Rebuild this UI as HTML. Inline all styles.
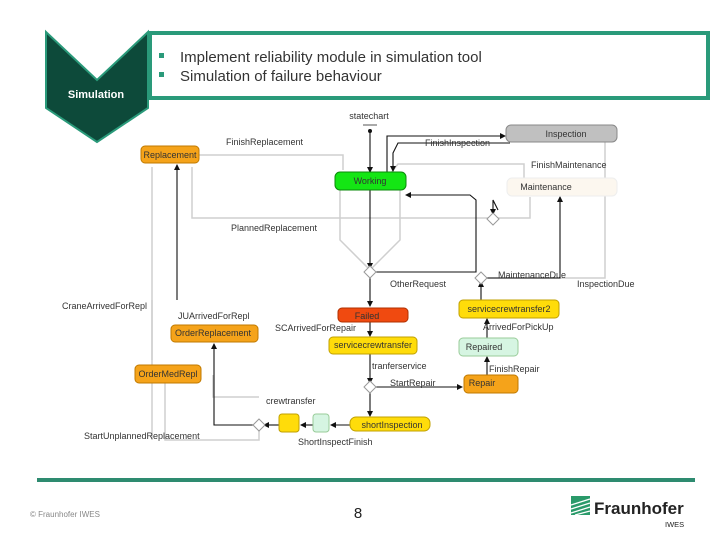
<!DOCTYPE html>
<html><head><meta charset="utf-8"><style>
html,body{margin:0;padding:0;background:#fff;}
svg{display:block;font-family:"Liberation Sans",sans-serif;}
.l{font-size:9px;fill:#333;}
.n{font-size:9px;fill:#333;text-anchor:middle;}
</style></head><body>
<svg width="720" height="540" viewBox="0 0 720 540" xmlns="http://www.w3.org/2000/svg">
<defs>
<marker id="a" markerWidth="6" markerHeight="6" refX="5" refY="3" orient="auto" markerUnits="userSpaceOnUse"><path d="M0,0 L6,3 L0,6z" fill="#111"/></marker>
</defs>
<!-- header -->
<polygon points="46,32 97,80 148,32 148,108 97,142 46,108" fill="#0d4a3a" stroke="#2a9a7a" stroke-width="2"/>
<text x="96" y="98" font-size="11" font-weight="bold" fill="#fff" text-anchor="middle">Simulation</text>
<rect x="150" y="33" width="558" height="65" fill="#fff" stroke="#2a9a7a" stroke-width="4"/>
<rect x="159" y="53" width="5" height="5" fill="#2a9a7a"/>
<rect x="159" y="72" width="5" height="5" fill="#2a9a7a"/>
<text x="180" y="62" font-size="15" fill="#333">Implement reliability module in simulation tool</text>
<text x="180" y="81" font-size="15" fill="#333">Simulation of failure behaviour</text>

<!-- gray lines -->
<g fill="none" stroke="#cfcfcf" stroke-width="1.5">
<path d="M199,155 H343 V170"/>
<path d="M192,167 V218 H490"/>
<path d="M496,218 H530 V197"/>
<path d="M340,190 V240 L368,268"/>
<path d="M400,190 V240 L372,268"/>
<path d="M390,174 L398,164 H524 V180"/>
<path d="M482,278 H605 V142"/>
<path d="M152,167 V440"/>
<path d="M213,375 V397 H259"/>
<path d="M165,383 V440 H259 V430"/>
<path d="M152,300 V360"/>
</g>
<!-- black lines -->
<g fill="none" stroke="#111" stroke-width="1.1">
<path d="M370,131 V172" marker-end="url(#a)"/>
<path d="M370,190 V268" marker-end="url(#a)"/>
<path d="M370,276 V306" marker-end="url(#a)"/>
<path d="M370,322 V336" marker-end="url(#a)"/>
<path d="M370,354 V383" marker-end="url(#a)"/>
<path d="M374,387 H462" marker-end="url(#a)"/>
<path d="M370,391 V416" marker-end="url(#a)"/>
<path d="M350,425 H331" marker-end="url(#a)"/>
<path d="M313,425 H301" marker-end="url(#a)"/>
<path d="M279,425 H264" marker-end="url(#a)"/>
<path d="M255,425 H214 V344" marker-end="url(#a)"/>
<path d="M487,375 V357" marker-end="url(#a)"/>
<path d="M487,338 V319" marker-end="url(#a)"/>
<path d="M481,300 V282" marker-end="url(#a)"/>
<path d="M387,172 V136 H505" marker-end="url(#a)"/>
<path d="M510,143 H398 L393,153 V171" marker-end="url(#a)"/>
<path d="M374,272 H476 V200 L470,195 H406" marker-end="url(#a)"/>
<path d="M485,278 H560 V197" marker-end="url(#a)"/>
<path d="M498,210 L493,200 V214" marker-end="url(#a)"/>
<path d="M177,300 V165" marker-end="url(#a)"/>
</g>
<!-- diamonds -->
<g fill="#fff" stroke="#999" stroke-width="1">
<polygon points="493,213 499,219 493,225 487,219"/>
<polygon points="370,266 376,272 370,278 364,272"/>
<polygon points="481,272 487,278 481,284 475,278"/>
<polygon points="370,381 376,387 370,393 364,387"/>
<polygon points="259,419 265,425 259,431 253,425"/>
</g>
<!-- statechart -->
<text class="n" x="369" y="119">statechart</text>
<rect x="363" y="124" width="14" height="2" fill="#aaa"/>
<circle cx="370" cy="131" r="2" fill="#111"/>
<!-- nodes -->
<rect x="506" y="125" width="111" height="17" rx="5" fill="#c0c0c0" stroke="#888"/><text class="n" x="566" y="137">Inspection</text>
<rect x="141" y="146" width="58" height="17" rx="4" fill="#f5a31a" stroke="#c07a00"/><text class="n" x="170" y="158">Replacement</text>
<rect x="335" y="172" width="71" height="18" rx="5" fill="#14e614" stroke="#0a8a0a"/><text class="n" x="370" y="184">Working</text>
<rect x="507" y="178" width="110" height="18" rx="5" fill="#fcf7ef" stroke="#eee"/><text class="n" x="546" y="190">Maintenance</text>
<rect x="338" y="308" width="70" height="14" rx="4" fill="#f04a10" stroke="#b03000"/><text class="n" x="367" y="319">Failed</text>
<rect x="459" y="300" width="100" height="18" rx="4" fill="#ffdc0a" stroke="#c0a000"/><text class="n" x="509" y="312">servicecrewtransfer2</text>
<rect x="171" y="325" width="87" height="17" rx="4" fill="#f5a31a" stroke="#c07a00"/><text class="n" x="213" y="336">OrderReplacement</text>
<rect x="329" y="337" width="88" height="17" rx="4" fill="#ffdc0a" stroke="#c0a000"/><text class="n" x="373" y="348">servicecrewtransfer</text>
<rect x="459" y="338" width="59" height="18" rx="4" fill="#d6f5e2" stroke="#9c9"/><text class="n" x="484" y="350">Repaired</text>
<rect x="135" y="365" width="66" height="18" rx="4" fill="#f5a31a" stroke="#c07a00"/><text class="n" x="168" y="377">OrderMedRepl</text>
<rect x="464" y="375" width="54" height="18" rx="4" fill="#f5a31a" stroke="#c07a00"/><text class="n" x="482" y="386">Repair</text>
<rect x="350" y="417" width="80" height="14" rx="6" fill="#ffdc0a" stroke="#c0a000"/><text class="n" x="392" y="428">shortInspection</text>
<rect x="313" y="414" width="16" height="18" rx="3" fill="#d6f5e2" stroke="#9c9"/>
<rect x="279" y="414" width="20" height="18" rx="3" fill="#ffdc0a" stroke="#c0a000"/>
<!-- labels -->
<text class="l" x="226" y="145">FinishReplacement</text>
<text class="l" x="425" y="146">FinishInspection</text>
<text class="l" x="531" y="168">FinishMaintenance</text>
<text class="l" x="231" y="231">PlannedReplacement</text>
<text class="l" x="390" y="287">OtherRequest</text>
<text class="l" x="498" y="278">MaintenanceDue</text>
<text class="l" x="577" y="287">InspectionDue</text>
<text class="l" x="62" y="309">CraneArrivedForRepl</text>
<text class="l" x="178" y="319">JUArrivedForRepl</text>
<text class="l" x="275" y="331">SCArrivedForRepair</text>
<text class="l" x="483" y="330">ArrivedForPickUp</text>
<text class="l" x="372" y="369">tranferservice</text>
<text class="l" x="489" y="372">FinishRepair</text>
<text class="l" x="390" y="386">StartRepair</text>
<text class="l" x="266" y="404">crewtransfer</text>
<text class="l" x="84" y="439">StartUnplannedReplacement</text>
<text class="l" x="298" y="445">ShortInspectFinish</text>
<!-- footer -->
<rect x="37" y="478" width="658" height="4" fill="#2e8b70"/>
<text x="30" y="517" font-size="8" fill="#888">© Fraunhofer IWES</text>
<text x="358" y="518" font-size="15" fill="#222" text-anchor="middle">8</text>
<g>
<rect x="571" y="496" width="19" height="19" fill="#2a9a6a"/>
<path d="M571,505 L590,499 M571,509 L590,503 M571,513 L590,507 M575,515 L590,511" stroke="#fff" stroke-width="1.3"/>
</g>
<text x="594" y="514" font-size="17" font-weight="bold" fill="#222">Fraunhofer</text>
<text x="665" y="527" font-size="7.5" fill="#222">IWES</text>
</svg>
</body></html>
